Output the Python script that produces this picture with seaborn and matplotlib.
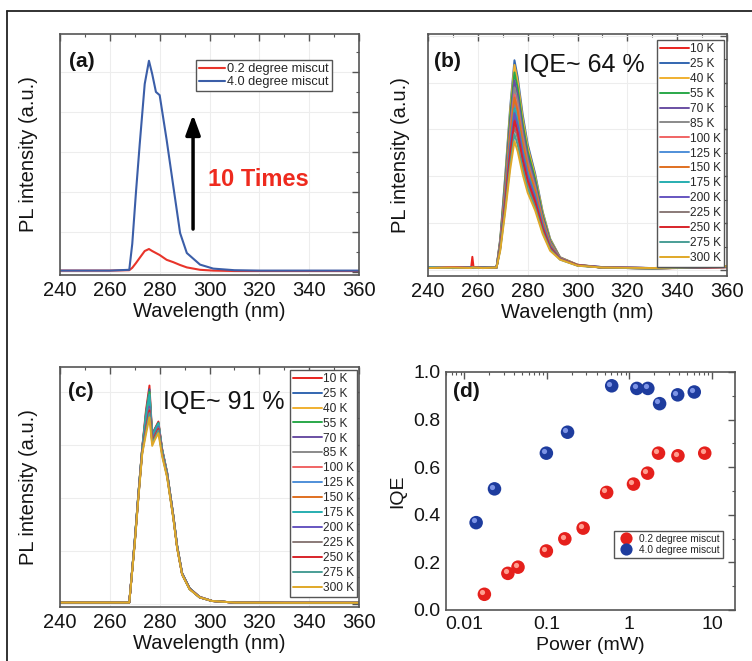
import numpy as np
import pandas as pd
import seaborn as sns
import matplotlib
matplotlib.use("Agg")
import matplotlib.pyplot as plt
import matplotlib.transforms as mtransforms
from matplotlib.lines import Line2D
from matplotlib.ticker import MultipleLocator, LogLocator, NullFormatter

# ---------------- data ----------------
# (a) PL spectra of two miscut samples
wl_a = [240, 260, 267.8, 269, 270.5, 272, 274, 275.7, 277, 278.5, 280, 282.8, 285.5,
        288.2, 290.9, 296.2, 301.5, 310, 320, 340, 360]
pl_a_02 = [0.03, 0.03, 0.04, 0.10, 0.22, 0.35, 0.52, 0.57, 0.52, 0.47, 0.42, 0.30, 0.24,
           0.17, 0.11, 0.05, 0.03, 0.02, 0.02, 0.02, 0.02]
pl_a_40 = [0.03, 0.03, 0.05, 0.70, 2.00, 3.20, 4.70, 5.28, 4.95, 4.50, 4.42, 3.30, 2.13,
           0.97, 0.47, 0.18, 0.08, 0.04, 0.03, 0.03, 0.03]
samples = ["0.2 degree miscut", "4.0 degree miscut"]

temps = ["10 K", "25 K", "40 K", "55 K", "70 K", "85 K", "100 K", "125 K", "150 K",
         "175 K", "200 K", "225 K", "250 K", "275 K", "300 K"]

# (b) temperature-dependent PL, 0.2 degree miscut
wl_b = [240, 250, 257.3, 257.8, 258.3, 262, 267.5, 269, 271, 273, 274.7, 276, 278,
        280, 283, 286, 289, 293, 300, 310, 330, 360]
b_10 = [0.04, 0.05, 0.05, 0.28, 0.05, 0.04, 0.05, 0.49, 1.46, 2.54, 3.25, 2.99, 2.41, 1.95, 1.50, 0.91, 0.49, 0.25, 0.10, 0.05, 0.04, 0.07]
b_25 = [0.05, 0.04, 0.05, 0.05, 0.04, 0.05, 0.05, 0.67, 2.02, 3.49, 4.48, 4.12, 3.32, 2.69, 2.06, 1.25, 0.67, 0.27, 0.11, 0.05, 0.03, 0.07]
b_40 = [0.04, 0.05, 0.04, 0.05, 0.05, 0.04, 0.05, 0.66, 1.97, 3.42, 4.38, 4.03, 3.24, 2.63, 2.01, 1.23, 0.66, 0.27, 0.11, 0.05, 0.04, 0.06]
b_55 = [0.05, 0.04, 0.05, 0.04, 0.05, 0.05, 0.05, 0.63, 1.90, 3.29, 4.22, 3.88, 3.12, 2.53, 1.94, 1.18, 0.63, 0.26, 0.10, 0.05, 0.03, 0.07]
b_70 = [0.04, 0.05, 0.05, 0.05, 0.04, 0.05, 0.05, 0.61, 1.82, 3.16, 4.05, 3.73, 3.00, 2.43, 1.86, 1.13, 0.61, 0.26, 0.10, 0.06, 0.04, 0.06]
b_85 = [0.05, 0.04, 0.04, 0.05, 0.05, 0.04, 0.05, 0.59, 1.76, 3.04, 3.90, 3.59, 2.89, 2.34, 1.79, 1.09, 0.59, 0.26, 0.11, 0.06, 0.04, 0.07]
b_100 = [0.04, 0.05, 0.05, 0.04, 0.05, 0.05, 0.05, 0.56, 1.69, 2.93, 3.75, 3.45, 2.78, 2.25, 1.73, 1.05, 0.56, 0.25, 0.10, 0.05, 0.03, 0.06]
b_125 = [0.05, 0.04, 0.05, 0.05, 0.04, 0.05, 0.05, 0.54, 1.61, 2.79, 3.58, 3.29, 2.65, 2.15, 1.65, 1.00, 0.54, 0.25, 0.10, 0.05, 0.04, 0.07]
b_150 = [0.04, 0.05, 0.04, 0.05, 0.05, 0.04, 0.05, 0.55, 1.66, 2.87, 3.68, 3.39, 2.72, 2.21, 1.69, 1.03, 0.55, 0.25, 0.11, 0.05, 0.03, 0.06]
b_175 = [0.05, 0.04, 0.05, 0.04, 0.05, 0.05, 0.05, 0.52, 1.55, 2.69, 3.45, 3.17, 2.55, 2.07, 1.59, 0.97, 0.52, 0.24, 0.10, 0.05, 0.04, 0.07]
b_200 = [0.04, 0.05, 0.05, 0.05, 0.04, 0.05, 0.05, 0.50, 1.51, 2.61, 3.35, 3.08, 2.48, 2.01, 1.54, 0.94, 0.50, 0.24, 0.10, 0.06, 0.04, 0.06]
b_225 = [0.05, 0.04, 0.04, 0.05, 0.05, 0.04, 0.05, 0.46, 1.37, 2.38, 3.05, 2.81, 2.26, 1.83, 1.40, 0.85, 0.46, 0.23, 0.10, 0.05, 0.03, 0.07]
b_250 = [0.04, 0.05, 0.05, 0.04, 0.05, 0.05, 0.05, 0.48, 1.43, 2.48, 3.18, 2.93, 2.35, 1.91, 1.46, 0.89, 0.48, 0.23, 0.10, 0.05, 0.04, 0.06]
b_275 = [0.05, 0.04, 0.05, 0.05, 0.04, 0.05, 0.05, 0.44, 1.31, 2.26, 2.90, 2.67, 2.15, 1.74, 1.33, 0.81, 0.44, 0.22, 0.09, 0.05, 0.03, 0.07]
b_300 = [0.04, 0.05, 0.04, 0.05, 0.05, 0.04, 0.05, 0.41, 1.24, 2.15, 2.75, 2.53, 2.04, 1.65, 1.27, 0.77, 0.41, 0.22, 0.09, 0.05, 0.04, 0.08]

# (c) temperature-dependent PL, 4.0 degree miscut
wl_c = [240, 267.8, 270, 271.5, 273, 274.5, 275.9, 277, 278, 279.5, 281, 283, 285.5,
        287, 289, 292, 296, 301, 310, 330, 360]
c_10 = [0.02, 0.02, 1.20, 2.10, 2.95, 3.65, 4.12, 3.20, 3.30, 3.44, 2.92, 2.48, 1.66, 1.10, 0.58, 0.29, 0.13, 0.05, 0.02, 0.015, 0.015]
c_25 = [0.02, 0.02, 1.20, 2.10, 2.94, 3.60, 4.05, 3.18, 3.29, 3.42, 2.91, 2.47, 1.66, 1.10, 0.58, 0.29, 0.13, 0.05, 0.02, 0.015, 0.015]
c_40 = [0.02, 0.02, 1.19, 2.09, 2.93, 3.55, 3.98, 3.16, 3.27, 3.40, 2.90, 2.46, 1.65, 1.09, 0.57, 0.29, 0.12, 0.05, 0.02, 0.015, 0.015]
c_55 = [0.02, 0.02, 1.19, 2.09, 2.93, 3.56, 4.00, 3.17, 3.28, 3.41, 2.90, 2.46, 1.65, 1.09, 0.57, 0.29, 0.12, 0.05, 0.02, 0.015, 0.015]
c_70 = [0.02, 0.02, 1.18, 2.08, 2.92, 3.50, 3.92, 3.15, 3.26, 3.39, 2.89, 2.45, 1.65, 1.09, 0.57, 0.29, 0.12, 0.05, 0.02, 0.015, 0.015]
c_85 = [0.02, 0.02, 1.18, 2.08, 2.91, 3.47, 3.88, 3.14, 3.25, 3.38, 2.88, 2.45, 1.64, 1.08, 0.57, 0.28, 0.12, 0.05, 0.02, 0.015, 0.015]
c_100 = [0.02, 0.02, 1.17, 2.07, 2.91, 3.45, 3.85, 3.13, 3.24, 3.38, 2.88, 2.44, 1.64, 1.08, 0.57, 0.28, 0.12, 0.05, 0.02, 0.015, 0.015]
c_125 = [0.02, 0.02, 1.17, 2.07, 2.90, 3.41, 3.80, 3.12, 3.23, 3.37, 2.87, 2.44, 1.64, 1.08, 0.56, 0.28, 0.12, 0.05, 0.02, 0.015, 0.015]
c_150 = [0.02, 0.02, 1.16, 2.06, 2.89, 3.38, 3.76, 3.10, 3.21, 3.35, 2.86, 2.43, 1.63, 1.07, 0.56, 0.28, 0.12, 0.05, 0.02, 0.015, 0.015]
c_175 = [0.02, 0.02, 1.19, 2.09, 2.93, 3.53, 3.95, 3.15, 3.27, 3.40, 2.90, 2.46, 1.65, 1.09, 0.57, 0.29, 0.12, 0.05, 0.02, 0.015, 0.015]
c_200 = [0.02, 0.02, 1.16, 2.05, 2.88, 3.35, 3.72, 3.09, 3.20, 3.34, 2.85, 2.42, 1.63, 1.07, 0.56, 0.28, 0.12, 0.05, 0.02, 0.015, 0.015]
c_225 = [0.02, 0.02, 1.15, 2.05, 2.87, 3.32, 3.68, 3.07, 3.18, 3.32, 2.84, 2.42, 1.62, 1.07, 0.56, 0.28, 0.12, 0.05, 0.02, 0.015, 0.015]
c_250 = [0.02, 0.02, 1.15, 2.04, 2.86, 3.30, 3.65, 3.05, 3.16, 3.30, 2.83, 2.41, 1.62, 1.06, 0.55, 0.28, 0.12, 0.05, 0.02, 0.015, 0.015]
c_275 = [0.02, 0.02, 1.14, 2.03, 2.85, 3.26, 3.60, 3.02, 3.13, 3.27, 2.81, 2.40, 1.61, 1.06, 0.55, 0.27, 0.12, 0.05, 0.02, 0.015, 0.015]
c_300 = [0.02, 0.02, 1.13, 2.02, 2.83, 3.20, 3.52, 2.98, 3.09, 3.22, 2.78, 2.38, 1.60, 1.05, 0.55, 0.27, 0.12, 0.05, 0.02, 0.015, 0.015]

# (d) IQE vs excitation power
power_02 = [0.0175, 0.0337, 0.0447, 0.0986, 0.165, 0.275, 0.53, 1.12, 1.66, 2.25, 3.87, 8.17]
iqe_02 = [0.066, 0.154, 0.180, 0.248, 0.299, 0.344, 0.494, 0.529, 0.575, 0.659, 0.648, 0.659]
power_40 = [0.0139, 0.0232, 0.0986, 0.178, 0.61, 1.23, 1.67, 2.32, 3.84, 6.10]
iqe_40 = [0.367, 0.509, 0.659, 0.747, 0.942, 0.931, 0.931, 0.867, 0.904, 0.916]

# ---------------- styling ----------------
sample_colors = ["#e8342a", "#3b5ea8"]
temp_colors = ["#e8231e", "#3366b0", "#f0b030", "#2aa84a", "#6a4fa3", "#8a8a8a",
               "#f06464", "#4f8fd8", "#e07020", "#27aeb0", "#6655c0", "#8a7a78",
               "#d8242a", "#4a9e96", "#e0a828"]
dot_colors = ["#e5201c", "#1e3c9e"]
dot_light = ["#ff9d8f", "#7d94e6"]
TXT = "#141414"

sns.set_theme(style="white")
plt.rcParams["font.family"] = ["Liberation Sans", "DejaVu Sans"]

fig = plt.figure(figsize=(7.52, 6.61), dpi=100)
W, H = 752, 661


def ax_px(l, t, r, b):
    return fig.add_axes([l / W, 1 - b / H, (r - l) / W, (b - t) / H])


def style(ax, fs):
    for s in ax.spines.values():
        s.set_color("#555555")
        s.set_linewidth(1.2)
    ax.tick_params(which="both", direction="in", top=True, right=True,
                   color="#555555", labelcolor=TXT, labelsize=fs, pad=4)
    ax.tick_params(which="major", length=5, width=1.0)
    ax.tick_params(which="minor", length=2.5, width=0.8)
    ax.grid(True, which="major", color="#ededed", lw=0.8)
    ax.set_axisbelow(True)


def spectra_axes(ax):
    ax.set_xlim(240, 360)
    ax.xaxis.set_major_locator(MultipleLocator(20))
    ax.xaxis.set_minor_locator(MultipleLocator(10))
    ax.yaxis.set_major_locator(MultipleLocator(1))
    ax.yaxis.set_minor_locator(MultipleLocator(0.5))
    ax.set_yticklabels([])
    ax.set_xlabel("Wavelength (nm)", fontsize=14.5, color=TXT, labelpad=2)


# ---- (a)
ax_a = ax_px(60, 34, 359, 275)
style(ax_a, 14.5)
df_a = pd.DataFrame({
    "Wavelength": wl_a * 2,
    "PL": pl_a_02 + pl_a_40,
    "Sample": [samples[0]] * len(wl_a) + [samples[1]] * len(wl_a),
})
sns.lineplot(data=df_a, x="Wavelength", y="PL", hue="Sample", palette=sample_colors,
             lw=1.5, estimator=None, ax=ax_a)
spectra_axes(ax_a)
ax_a.set_ylim(-0.08, 5.95)
ax_a.set_ylabel("PL intensity (a.u.)", fontsize=14.5, color=TXT, labelpad=12)
ax_a.legend(loc="upper right", bbox_to_anchor=(0.91, 0.893), fontsize=9.2,
            frameon=True, fancybox=False, edgecolor="#555555", framealpha=1,
            borderpad=0.25, handlelength=2.0, handletextpad=0.2, labelspacing=0.1,
            borderaxespad=0)
ax_a.annotate("", xy=(293.4, 4.0), xytext=(293.4, 1.0),
              arrowprops=dict(arrowstyle="-|>,head_length=0.6,head_width=0.22",
                              color="black", lw=2.5, mutation_scale=20))
ax_a.text(299.5, 2.3, "10 Times", color="#ee2a1e", fontsize=17, fontweight="bold",
          va="center", ha="left")
ax_a.text(0.03, 0.885, "(a)", transform=ax_a.transAxes, fontsize=15,
          fontweight="bold", va="center", color=TXT)


def temp_df(wl, series):
    return pd.DataFrame({
        "Wavelength": wl * len(series),
        "PL": sum(series, []),
        "T": sum([[t] * len(wl) for t in temps], []),
    })


def temp_legend(ax, anchor):
    ax.legend(loc="upper right", bbox_to_anchor=anchor, fontsize=8.6, frameon=True,
              fancybox=False, edgecolor="#555555", framealpha=1, borderpad=0.25,
              handlelength=2.4, handletextpad=0.1, labelspacing=0.245,
              borderaxespad=0)


# ---- (b)
ax_b = ax_px(428, 34, 727, 276)
style(ax_b, 14.5)
series_b = [b_10, b_25, b_40, b_55, b_70, b_85, b_100, b_125, b_150, b_175, b_200,
            b_225, b_250, b_275, b_300]
sns.lineplot(data=temp_df(wl_b, series_b), x="Wavelength", y="PL", hue="T",
             palette=temp_colors, lw=1.4, estimator=None, ax=ax_b)
spectra_axes(ax_b)
ax_b.set_ylim(-0.13, 5.04)
ax_b.set_ylabel("PL intensity (a.u.)", fontsize=14.5, color=TXT, labelpad=9)
temp_legend(ax_b, (0.99, 0.975))
ax_b.text(0.02, 0.885, "(b)", transform=ax_b.transAxes, fontsize=15,
          fontweight="bold", va="center", color=TXT)
ax_b.text(0.318, 0.872, "IQE~ 64 %", transform=ax_b.transAxes, fontsize=18,
          va="center", color=TXT)

# ---- (c)
ax_c = ax_px(60, 367, 359, 607)
style(ax_c, 14.5)
series_c = [c_10, c_25, c_40, c_55, c_70, c_85, c_100, c_125, c_150, c_175, c_200,
            c_225, c_250, c_275, c_300]
sns.lineplot(data=temp_df(wl_c, series_c), x="Wavelength", y="PL", hue="T",
             palette=temp_colors, lw=1.4, estimator=None, ax=ax_c)
spectra_axes(ax_c)
ax_c.set_ylim(-0.064, 4.47)
ax_c.set_ylabel("PL intensity (a.u.)", fontsize=14.5, color=TXT, labelpad=12)
temp_legend(ax_c, (0.993, 0.988))
ax_c.text(0.027, 0.896, "(c)", transform=ax_c.transAxes, fontsize=15,
          fontweight="bold", va="center", color=TXT)
ax_c.text(0.345, 0.854, "IQE~ 91 %", transform=ax_c.transAxes, fontsize=18,
          va="center", color=TXT)

# ---- (d)
ax_d = ax_px(446, 372, 735, 610)
style(ax_d, 14)
ax_d.grid(False)
df_d = pd.DataFrame({
    "Power": power_02 + power_40,
    "IQE": iqe_02 + iqe_40,
    "Sample": [samples[0]] * len(power_02) + [samples[1]] * len(power_40),
})
sns.scatterplot(data=df_d, x="Power", y="IQE", hue="Sample", palette=dot_colors,
                s=95, linewidth=0, ax=ax_d, zorder=3)
hl = mtransforms.offset_copy(ax_d.transData, fig=fig, x=-1.6, y=1.6, units="points")
for px, py, c in [(power_02, iqe_02, dot_light[0]), (power_40, iqe_40, dot_light[1])]:
    ax_d.scatter(px, py, s=14, color=c, linewidth=0, transform=hl, zorder=4)
ax_d.set_xscale("log")
ax_d.set_xlim(0.006, 19)
ax_d.set_ylim(0, 1.0)
ax_d.set_xticks([0.01, 0.1, 1, 10])
ax_d.set_xticklabels(["0.01", "0.1", "1", "10"])
ax_d.xaxis.set_minor_locator(LogLocator(base=10, subs=np.arange(2, 10)))
ax_d.xaxis.set_minor_formatter(NullFormatter())
ax_d.yaxis.set_major_locator(MultipleLocator(0.2))
ax_d.yaxis.set_minor_locator(MultipleLocator(0.1))
ax_d.set_yticklabels([f"{v:.1f}" for v in ax_d.get_yticks()])
ax_d.set_xlabel("Power (mW)", fontsize=14, color=TXT, labelpad=3)
ax_d.set_ylabel("IQE", fontsize=14, color=TXT, labelpad=5)
ax_d.legend(loc="upper left", bbox_to_anchor=(0.58, 0.332), fontsize=7.3,
            frameon=True, fancybox=False, edgecolor="#555555", framealpha=1,
            borderpad=0.25, handletextpad=0.3, labelspacing=0.15, markerscale=0.9,
            borderaxespad=0)
ax_d.text(0.024, 0.916, "(d)", transform=ax_d.transAxes, fontsize=15,
          fontweight="bold", va="center", color=TXT)

# outer frame (left and top edges visible)
fig.add_artist(Line2D([7 / W, 7 / W], [0, 1 - 11 / H], color="#222222", lw=1.3))
fig.add_artist(Line2D([7 / W, 1], [1 - 11 / H, 1 - 11 / H], color="#222222", lw=1.3))

fig.savefig("out.png", dpi=100, facecolor="white")
